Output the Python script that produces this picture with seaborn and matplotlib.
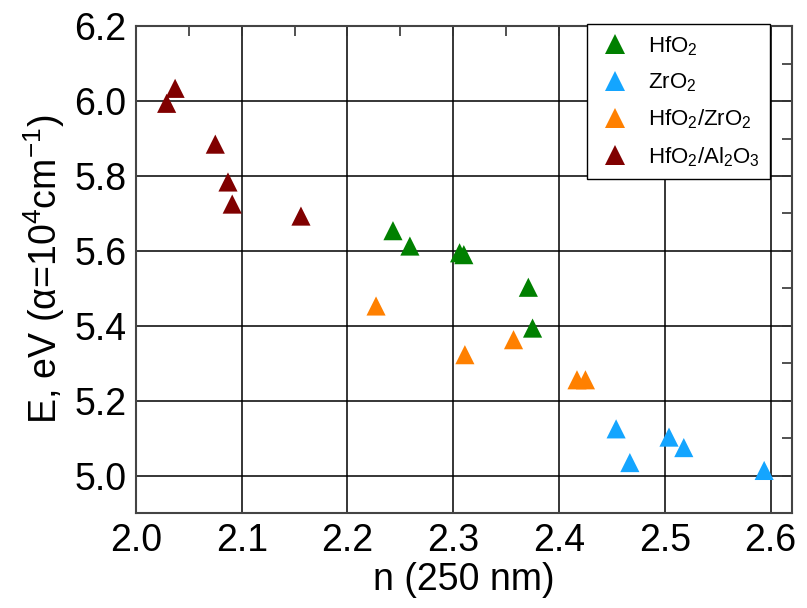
import pandas as pd
import seaborn as sns
import matplotlib.pyplot as plt
from matplotlib.ticker import MultipleLocator
from matplotlib.lines import Line2D

# Datos
hfo2_n = [2.243, 2.259, 2.306, 2.310, 2.371, 2.375]
hfo2_e = [5.654, 5.613, 5.595, 5.590, 5.503, 5.394]

zro2_n = [2.454, 2.467, 2.504, 2.518, 2.594]
zro2_e = [5.125, 5.035, 5.103, 5.075, 5.014]

hfzr_n = [2.227, 2.311, 2.357, 2.417, 2.425]
hfzr_e = [5.453, 5.323, 5.363, 5.256, 5.256]

hfal_n = [2.029, 2.037, 2.075, 2.087, 2.091, 2.156]
hfal_e = [5.994, 6.034, 5.885, 5.784, 5.725, 5.693]

grupos = ["HfO2", "ZrO2", "HfO2/ZrO2", "HfO2/Al2O3"]
etiquetas = [r"HfO$_2$", r"ZrO$_2$", r"HfO$_2$/ZrO$_2$", r"HfO$_2$/Al$_2$O$_3$"]
colores = ["#008000", "#14A5FF", "#FF8000", "#800000"]

df = pd.concat([
    pd.DataFrame({"n": hfo2_n, "E": hfo2_e, "grupo": grupos[0]}),
    pd.DataFrame({"n": zro2_n, "E": zro2_e, "grupo": grupos[1]}),
    pd.DataFrame({"n": hfzr_n, "E": hfzr_e, "grupo": grupos[2]}),
    pd.DataFrame({"n": hfal_n, "E": hfal_e, "grupo": grupos[3]}),
])

sns.set_style("white")
plt.rcParams["font.family"] = ["Liberation Sans", "DejaVu Sans"]
plt.rcParams["mathtext.fontset"] = "custom"
plt.rcParams["mathtext.rm"] = "Liberation Sans"
plt.rcParams["mathtext.it"] = "Liberation Sans:italic"
for k in ["text.color", "axes.labelcolor", "xtick.color", "ytick.color"]:
    plt.rcParams[k] = "black"

fig = plt.figure(figsize=(8.07, 6.08), dpi=100)
ax = fig.add_axes([0.1685, 0.156, 0.8125, 0.801])

sns.scatterplot(
    data=df, x="n", y="E", hue="grupo", hue_order=grupos,
    palette=colores, marker="^", s=190, linewidth=0, legend=False,
    ax=ax, zorder=3,
)

ax.set_xlim(2.0, 2.62)
ax.set_ylim(4.9, 6.2)
ax.xaxis.set_major_locator(MultipleLocator(0.1))
ax.xaxis.set_minor_locator(MultipleLocator(0.05))
ax.yaxis.set_major_locator(MultipleLocator(0.2))
ax.yaxis.set_minor_locator(MultipleLocator(0.1))
ax.xaxis.set_major_formatter(plt.FormatStrFormatter("%.1f"))
ax.yaxis.set_major_formatter(plt.FormatStrFormatter("%.1f"))

ax.grid(True, which="major", color="black", linewidth=1.1)
ax.set_axisbelow(True)
ax.tick_params(which="both", direction="in", top=True, right=True,
               labelsize=27, color="#333333", pad=7)
ax.tick_params(which="major", length=7, width=1.2)
ax.tick_params(which="minor", length=7, width=1.2)
for sp in ax.spines.values():
    sp.set_color("#444444")
    sp.set_linewidth(1.5)

ax.set_xlabel("n (250 nm)", fontsize=27, labelpad=2)
ax.set_ylabel("E, eV (α=10$^4$cm$^{-1}$)", fontsize=27, labelpad=5)

handles = [Line2D([], [], marker="^", linestyle="none", markersize=14,
                  markerfacecolor=c, markeredgewidth=0) for c in colores]
leg = ax.legend(handles, etiquetas, loc="upper right",
                bbox_to_anchor=(770 / 807, 1 - 24 / 608),
                bbox_transform=fig.transFigure, fontsize=16,
                frameon=True, fancybox=False, framealpha=1,
                edgecolor="black", borderaxespad=0, handletextpad=0.7,
                labelspacing=0.62, borderpad=0.45, handlelength=1.6)
leg.get_frame().set_linewidth(1.0)
leg.set_zorder(5)

plt.savefig("out.png", dpi=100)
